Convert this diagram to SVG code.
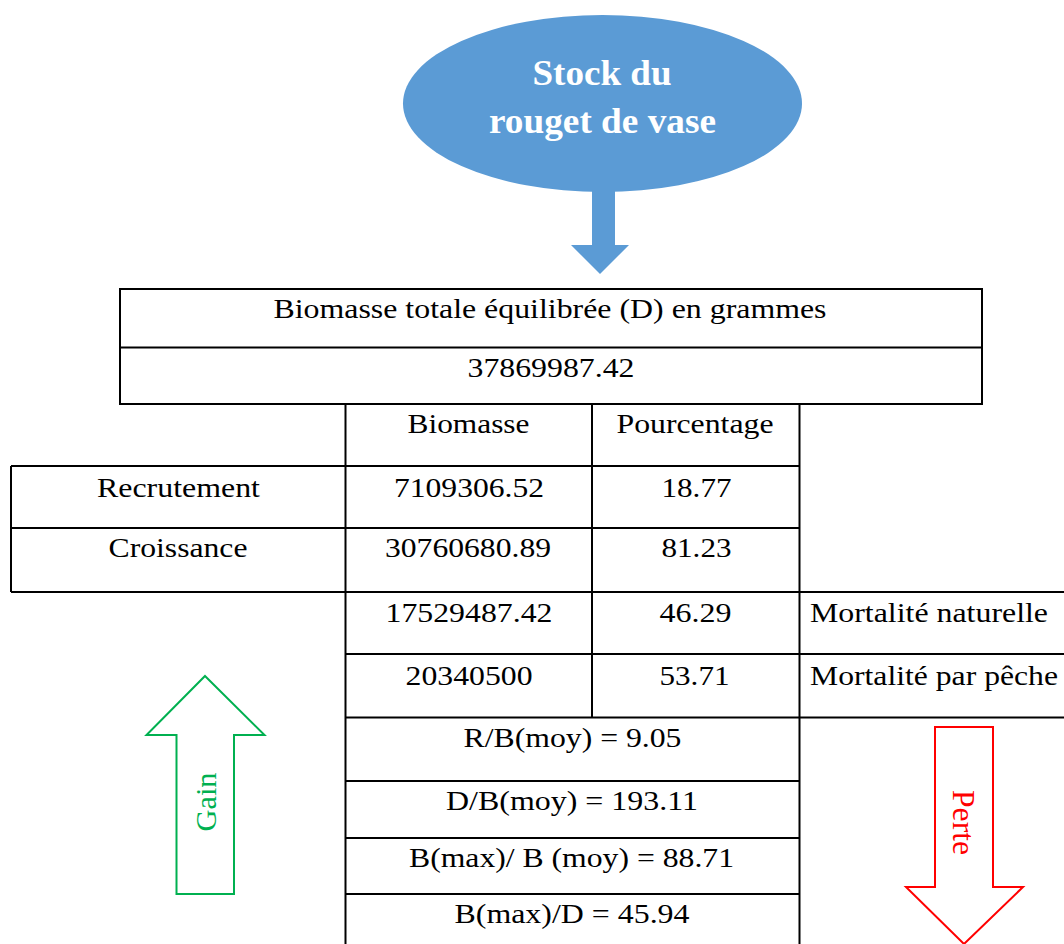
<svg xmlns="http://www.w3.org/2000/svg" width="1064" height="944" viewBox="0 0 1064 944">
<style>
.t{font-family:"Liberation Serif","Times New Roman",serif;font-size:28px;fill:#000;text-anchor:middle}
.l{text-anchor:start}
.g{stroke:#000;stroke-width:2;fill:none}
.title{font-family:"Liberation Serif","Times New Roman",serif;font-size:35px;font-weight:bold;fill:#fff;text-anchor:middle}
.side{font-family:"Liberation Serif","Times New Roman",serif;text-anchor:middle}
</style>
<rect width="1064" height="944" fill="#fff"/>
<g id="stock">
<ellipse cx="602.5" cy="103.5" rx="199.5" ry="88.5" fill="#5B9BD5"/>
<text class="title" x="602" y="85" textLength="139" lengthAdjust="spacingAndGlyphs">Stock du</text>
<text class="title" x="602.5" y="133" textLength="227" lengthAdjust="spacingAndGlyphs">rouget de vase</text>
</g>
<g id="connectors">
<polygon points="592,188 615,188 615,245 629,245 600,274 571,245 592,245" fill="#5B9BD5"/>
</g>
<g id="table" class="g">
<rect x="120" y="289" width="862" height="115"/>
<line x1="120" y1="347.5" x2="982" y2="347.5"/>
<line x1="345.5" y1="404" x2="345.5" y2="944"/>
<line x1="592" y1="404" x2="592" y2="717.5"/>
<line x1="799.5" y1="404" x2="799.5" y2="944"/>
<line x1="11" y1="466" x2="799.5" y2="466"/>
<line x1="11" y1="528" x2="799.5" y2="528"/>
<line x1="11" y1="592" x2="1064" y2="592"/>
<line x1="11" y1="466" x2="11" y2="592"/>
<line x1="345.5" y1="654" x2="1064" y2="654"/>
<line x1="345.5" y1="717.5" x2="1064" y2="717.5"/>
<line x1="345.5" y1="781" x2="799.5" y2="781"/>
<line x1="345.5" y1="838" x2="799.5" y2="838"/>
<line x1="345.5" y1="894" x2="799.5" y2="894"/>
</g>
<g id="biomasse-totale">
<text class="t" x="550" y="318" textLength="553" lengthAdjust="spacingAndGlyphs">Biomasse totale équilibrée (D) en grammes</text>
<text class="t" x="551" y="377" textLength="167" lengthAdjust="spacingAndGlyphs">37869987.42</text>
</g>
<g id="header">
<text class="t" x="468.5" y="433" textLength="122" lengthAdjust="spacingAndGlyphs">Biomasse</text>
<text class="t" x="695" y="433" textLength="157" lengthAdjust="spacingAndGlyphs">Pourcentage</text>
</g>
<g id="recrutement">
<text class="t" x="178.5" y="496.5" textLength="163" lengthAdjust="spacingAndGlyphs">Recrutement</text>
<text class="t" x="469" y="496.5" textLength="150" lengthAdjust="spacingAndGlyphs">7109306.52</text>
<text class="t" x="696.5" y="496.5" textLength="70" lengthAdjust="spacingAndGlyphs">18.77</text>
</g>
<g id="croissance">
<text class="t" x="178" y="557" textLength="139" lengthAdjust="spacingAndGlyphs">Croissance</text>
<text class="t" x="468" y="557" textLength="166" lengthAdjust="spacingAndGlyphs">30760680.89</text>
<text class="t" x="696.5" y="557" textLength="70" lengthAdjust="spacingAndGlyphs">81.23</text>
</g>
<g id="mortalite-naturelle">
<text class="t" x="469" y="622" textLength="167" lengthAdjust="spacingAndGlyphs">17529487.42</text>
<text class="t" x="695.5" y="622" textLength="72" lengthAdjust="spacingAndGlyphs">46.29</text>
<text class="t l" x="810" y="622" textLength="238" lengthAdjust="spacingAndGlyphs">Mortalité naturelle</text>
</g>
<g id="mortalite-peche">
<text class="t" x="469" y="685" textLength="127" lengthAdjust="spacingAndGlyphs">20340500</text>
<text class="t" x="694.5" y="685" textLength="70" lengthAdjust="spacingAndGlyphs">53.71</text>
<text class="t l" x="810" y="685" textLength="248" lengthAdjust="spacingAndGlyphs">Mortalité par pêche</text>
</g>
<g id="ratios">
<text class="t" x="572.5" y="747" textLength="218" lengthAdjust="spacingAndGlyphs">R/B(moy) = 9.05</text>
<text class="t" x="572" y="810" textLength="252" lengthAdjust="spacingAndGlyphs">D/B(moy) = 193.11</text>
<text class="t" x="571.5" y="866.5" textLength="325" lengthAdjust="spacingAndGlyphs">B(max)/ B (moy) = 88.71</text>
<text class="t" x="572" y="923" textLength="235" lengthAdjust="spacingAndGlyphs">B(max)/D = 45.94</text>
</g>
<g id="gain">
<polygon points="205,676 264.5,735 234,735 234,894 176.5,894 176.5,735 146.5,735" fill="#fff" stroke="#00B050" stroke-width="2"/>
<text class="side" font-size="30" fill="#00B050" transform="translate(216,802) rotate(-90)" textLength="59" lengthAdjust="spacingAndGlyphs">Gain</text>
</g>
<g id="perte">
<polygon points="935,727 993,727 993,887 1023,887 964,944 906,887 935,887" fill="#fff" stroke="#FF0000" stroke-width="2"/>
<text class="side" font-size="32" fill="#FF0000" transform="translate(953,822.5) rotate(90)" textLength="65" lengthAdjust="spacingAndGlyphs">Perte</text>
</g>
</svg>
